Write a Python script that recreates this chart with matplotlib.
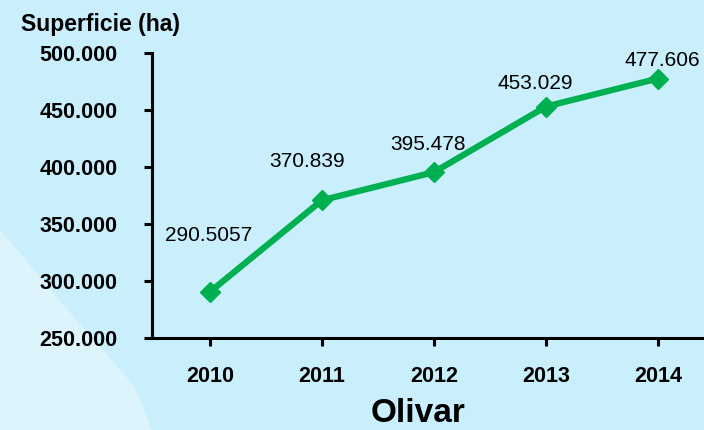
import matplotlib.pyplot as plt
from matplotlib.patches import Polygon
from matplotlib.ticker import FuncFormatter

years = ["2010", "2011", "2012", "2013", "2014"]
surface = [290.5057, 370.839, 395.478, 453.029, 477.606]  # miles de ha
label_offsets = [(-1, 56), (-15, 39), (-6, 28), (-11, 23), (4, 18)]

bg = "#C9EEFC"
green = "#00B050"

plt.rcParams["font.family"] = ["Liberation Sans", "DejaVu Sans"]

fig = plt.figure(figsize=(7.04, 4.30), dpi=100, facecolor=bg)
W, H = 704, 430

# background axes holding the lighter swoosh in the lower-left corner
bg_ax = fig.add_axes([0, 0, 1, 1], zorder=-1)
bg_ax.set_xlim(0, W)
bg_ax.set_ylim(H, 0)
bg_ax.axis("off")
swoosh = [(0, 230), (20, 253), (65, 307), (135, 387), (152, 430), (0, 430)]
bg_ax.add_patch(Polygon(swoosh, closed=True, facecolor="#DDF4FD",
                        edgecolor="none"))

ax = fig.add_axes([152 / W, 1 - 338 / H, (W - 152) / W, (338 - 53) / H])
ax.set_facecolor("none")

x = range(len(years))
ax.plot(x, surface, color=green, lw=4.5, marker="D", ms=10.5,
        markerfacecolor=green, markeredgecolor=green, clip_on=False)

for xi, v, (dx, dy) in zip(x, surface, label_offsets):
    ax.annotate(str(v), (xi, v), xytext=(dx, dy), textcoords="offset pixels",
                ha="center", va="center", fontsize=15)

ax.set_xlim(-0.518, (W - 210) / 112)
ax.set_ylim(250, 500)
ax.set_yticks([250, 300, 350, 400, 450, 500])
ax.yaxis.set_major_formatter(FuncFormatter(lambda v, p: f"{v:.3f}"))
ax.set_xticks(list(x))
ax.set_xticklabels(years)

for side in ["top", "right"]:
    ax.spines[side].set_visible(False)
for side in ["left", "bottom"]:
    ax.spines[side].set_linewidth(2.2)
    ax.spines[side].set_color("black")

ax.tick_params(axis="y", direction="out", length=6, width=2.2, pad=19,
               labelsize=15.5)
ax.tick_params(axis="x", direction="out", length=6, width=2.2, pad=14,
               labelsize=15.5)
for lab in ax.get_xticklabels() + ax.get_yticklabels():
    lab.set_fontweight("bold")

fig.text(100 / W, 1 - 25 / H, "Superficie (ha)", ha="center", va="center",
         fontsize=16.5, fontweight="bold")
fig.text(418 / W, 1 - 413 / H, "Olivar", ha="center", va="center",
         fontsize=24, fontweight="bold")

fig.savefig("out.png", dpi=100, facecolor=bg)
